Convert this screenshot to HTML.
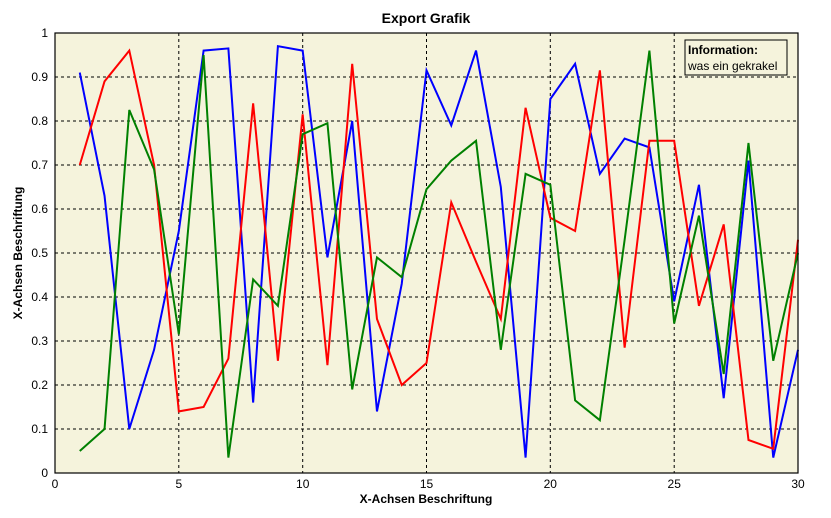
<!DOCTYPE html>
<html><head><meta charset="utf-8"><style>
html,body{margin:0;padding:0;background:#fff;}
svg{display:block;font-family:"Liberation Sans",sans-serif;}
</style></head><body>
<svg width="831" height="518" viewBox="0 0 831 518">
<rect x="0" y="0" width="831" height="518" fill="#fff"/>
<rect x="55" y="33" width="743" height="440" fill="#f5f3dc"/>
<g stroke="#000" stroke-width="1" stroke-dasharray="3,3">
<line x1="178.8" y1="33" x2="178.8" y2="473"/>
<line x1="302.7" y1="33" x2="302.7" y2="473"/>
<line x1="426.5" y1="33" x2="426.5" y2="473"/>
<line x1="550.3" y1="33" x2="550.3" y2="473"/>
<line x1="674.2" y1="33" x2="674.2" y2="473"/>
<line x1="55" y1="77" x2="798" y2="77"/>
<line x1="55" y1="121" x2="798" y2="121"/>
<line x1="55" y1="165" x2="798" y2="165"/>
<line x1="55" y1="209" x2="798" y2="209"/>
<line x1="55" y1="253" x2="798" y2="253"/>
<line x1="55" y1="297" x2="798" y2="297"/>
<line x1="55" y1="341" x2="798" y2="341"/>
<line x1="55" y1="385" x2="798" y2="385"/>
<line x1="55" y1="429" x2="798" y2="429"/>
</g>
<g transform="translate(55,473) scale(24.767,-440)" fill="none" stroke-width="2" stroke-linejoin="miter">
<polyline vector-effect="non-scaling-stroke" stroke="#0000ff" points="1,.91 2,.63 3,.10 4,.28 5,.55 6,.96 7,.965 8,.16 9,.97 10,.96 11,.49 12,.80 13,.14 14,.43 15,.915 16,.79 17,.96 18,.65 19,.035 20,.85 21,.93 22,.68 23,.76 24,.74 25,.39 26,.655 27,.17 28,.71 29,.035 30,.28"/>
<polyline vector-effect="non-scaling-stroke" stroke="#ff0000" points="1,.70 2,.89 3,.96 4,.70 5,.14 6,.15 7,.26 8,.84 9,.255 10,.815 11,.245 12,.93 13,.35 14,.20 15,.25 16,.615 17,.48 18,.35 19,.83 20,.58 21,.55 22,.915 23,.285 24,.755 25,.755 26,.38 27,.565 28,.075 29,.055 30,.53"/>
<polyline vector-effect="non-scaling-stroke" stroke="#008000" points="1,.05 2,.10 3,.825 4,.69 5,.315 6,.95 7,.035 8,.44 9,.38 10,.77 11,.795 12,.19 13,.49 14,.445 15,.645 16,.71 17,.755 18,.28 19,.68 20,.655 21,.165 22,.12 23,.53 24,.96 25,.34 26,.585 27,.225 28,.75 29,.255 30,.50"/>
</g>
<rect x="55" y="33" width="743" height="440" fill="none" stroke="#000" stroke-width="1.2"/>
<g font-size="12" fill="#000" text-anchor="end">
<text x="48" y="37">1</text>
<text x="48" y="81">0.9</text>
<text x="48" y="125">0.8</text>
<text x="48" y="169">0.7</text>
<text x="48" y="213">0.6</text>
<text x="48" y="257">0.5</text>
<text x="48" y="301">0.4</text>
<text x="48" y="345">0.3</text>
<text x="48" y="389">0.2</text>
<text x="48" y="433">0.1</text>
<text x="48" y="477">0</text>
</g>
<g font-size="12" fill="#000" text-anchor="middle">
<text x="55" y="488">0</text>
<text x="178.8" y="488">5</text>
<text x="302.7" y="488">10</text>
<text x="426.5" y="488">15</text>
<text x="550.3" y="488">20</text>
<text x="674.2" y="488">25</text>
<text x="798" y="488">30</text>
</g>
<text x="426" y="23" font-size="14" font-weight="bold" text-anchor="middle">Export Grafik</text>
<text x="426" y="503" font-size="12" font-weight="bold" text-anchor="middle">X-Achsen Beschriftung</text>
<text transform="translate(22,253) rotate(-90)" font-size="12" font-weight="bold" text-anchor="middle">X-Achsen Beschriftung</text>
<rect x="685" y="40" width="102" height="35" fill="#f5f3dc" stroke="#000" stroke-width="1"/>
<text x="688" y="54" font-size="12" font-weight="bold">Information:</text>
<text x="688" y="70" font-size="12">was ein gekrakel</text>
</svg>
</body></html>
